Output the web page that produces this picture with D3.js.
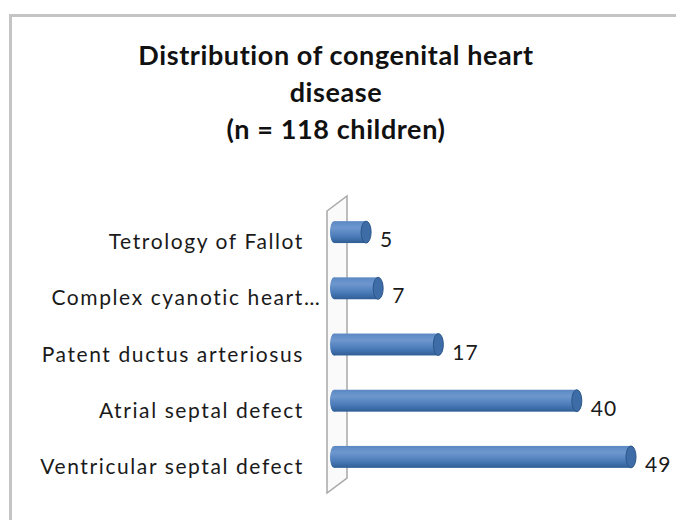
<!DOCTYPE html>
<html>
<head>
<meta charset="utf-8">
<script src="https://cdn.jsdelivr.net/npm/d3@7"></script>
<style>
  body { margin: 0; background: #fff; }
  svg text { font-family: Lato, "Open Sans", sans-serif; }
</style>
</head>
<body>
<div id="chart"></div>
<script>
// chart data
const categories = ["Tetrology of Fallot", "Complex cyanotic heart…", "Patent ductus arteriosus", "Atrial septal defect", "Ventricular septal defect"];
const counts = [5, 7, 17, 40, 49];
const titleLines = ["Distribution of congenital heart", "disease", "(n = 118 children)"];

const width = 676, height = 520;

const svg = d3.select("#chart").append("svg")
    .attr("width", width)
    .attr("height", height);

// gradient for the cylinder bars
let defs = svg.append("defs");
let grad = defs.append("linearGradient")
    .attr("id", "barGrad")
    .attr("x1", 0).attr("y1", 0).attr("x2", 0).attr("y2", 1);
grad.append("stop").attr("offset", "0%").attr("stop-color", "#5b88c3");
grad.append("stop").attr("offset", "30%").attr("stop-color", "#6e97ce");
grad.append("stop").attr("offset", "70%").attr("stop-color", "#4a7bb8");
grad.append("stop").attr("offset", "100%").attr("stop-color", "#2f5d95");

// outer chart border (top and left visible)
svg.append("path")
    .attr("d", `M10.5,${height} L10.5,15.5 L${width},15.5`)
    .attr("fill", "none")
    .attr("stroke", "#c4c4c4")
    .attr("stroke-width", 3);

// title
svg.append("text")
    .attr("text-anchor", "middle")
    .attr("font-weight", "bold")
    .attr("font-size", 27)
    .attr("letter-spacing", 0.6)
    .attr("fill", "#111")
    .selectAll("tspan")
    .data(titleLines)
    .join("tspan")
    .attr("x", 336)
    .attr("y", (d, i) => 65 + i * 37)
    .text(d => d);

// scales
const x = d3.scaleLinear()
    .domain([0, 49])
    .range([341, 636]);

const y = d3.scaleBand()
    .domain(categories)
    .range([204, 485])
    .paddingInner(0.61)
    .paddingOuter(0.305);

// 3d wall behind the bars
svg.append("polygon")
    .attr("points", [[327, 211], [347, 196], [347, 478], [327, 493]].join(" "))
    .attr("fill", "#fafafa")
    .attr("stroke", "#a8a8a8")
    .attr("stroke-width", 1.5);

// category axis
let yAxis = d3.axisLeft(y).tickSize(0).tickPadding(0);
let yAxisGroup = svg.append("g")
    .attr("transform", "translate(304,0)")
    .call(yAxis);
yAxisGroup.select(".domain").remove();
yAxisGroup.selectAll("text")
    .attr("font-family", "Lato, sans-serif")
    .attr("font-size", 21)
    .attr("letter-spacing", 1.6)
    .attr("fill", "#1a1a1a")
    .attr("dy", 17);

// truncated labels: the ellipsis hangs past the alignment edge, like Excel does
yAxisGroup.selectAll("text").each(function (d) {
    if (d.endsWith("…")) {
        let t = d3.select(this);
        let full = this.getComputedTextLength();
        t.text(d.slice(0, -1));
        let cut = this.getComputedTextLength();
        t.text(d);
        t.attr("dx", full - cut);
    }
});

// bars
const barStart = 334;
let bars = svg.selectAll(".bar")
    .data(counts)
    .join("g")
    .attr("class", "bar");

let bh = y.bandwidth();

bars.append("rect")
    .attr("x", barStart)
    .attr("y", (d, i) => y(categories[i]))
    .attr("width", d => x(d) - 5 - barStart)
    .attr("height", bh)
    .attr("fill", "url(#barGrad)");

// left rounded base
bars.append("ellipse")
    .attr("cx", barStart)
    .attr("cy", (d, i) => y(categories[i]) + bh / 2)
    .attr("rx", 4)
    .attr("ry", bh / 2)
    .attr("fill", "url(#barGrad)");

// right end cap
bars.append("ellipse")
    .attr("cx", d => x(d) - 5)
    .attr("cy", (d, i) => y(categories[i]) + bh / 2)
    .attr("rx", 5)
    .attr("ry", bh / 2)
    .attr("fill", "#3d6ca6")
    .attr("stroke", "#2b5688")
    .attr("stroke-width", 1);

// value labels
bars.append("text")
    .attr("x", d => x(d) + 9)
    .attr("y", (d, i) => y(categories[i]) + bh / 2 + 15)
    .attr("font-size", 21)
    .attr("letter-spacing", 1)
    .attr("fill", "#1a1a1a")
    .text(d => d);
</script>
</body>
</html>
